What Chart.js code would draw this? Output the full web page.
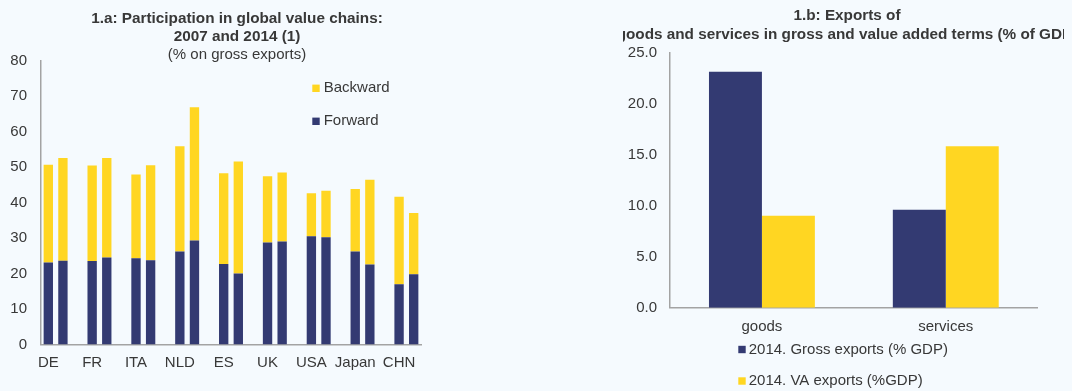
<!DOCTYPE html>
<html>
<head>
<meta charset="utf-8">
<script src="https://cdn.jsdelivr.net/npm/chart.js@4/dist/chart.umd.min.js"></script>
<style>
  html, body { margin: 0; padding: 0; background: #F5FAFE; overflow: hidden; width: 1072px; height: 391px; }
  #gvcBox { position: absolute; left: 0; top: 0; width: 474px; height: 391px; }
  #expClip { position: absolute; left: 623px; top: 0; width: 441px; height: 391px; overflow: hidden; }
  #expBox { position: absolute; left: -36px; top: 0; width: 520px; height: 391px; }
</style>
</head>
<body>
<div id="gvcBox"><canvas id="gvc"></canvas></div>
<div id="expClip"><div id="expBox"><canvas id="exp"></canvas></div></div>
<script>
// Participation in global value chains, % of gross exports
const countries    = ['DE', 'FR', 'ITA', 'NLD', 'ES', 'UK', 'USA', 'Japan', 'CHN'];
const forward2007  = [23.1, 23.5, 24.3, 26.2, 22.7, 28.7, 30.5, 26.2, 17.0];
const forward2014  = [23.6, 24.5, 23.7, 29.3, 20.0, 29.0, 30.2, 22.5, 19.8];
const backward2007 = [27.5, 26.9, 23.6, 29.6, 25.5, 18.7, 12.1, 17.6, 24.6];
const backward2014 = [28.9, 28.0, 26.8, 37.5, 31.5, 19.4, 13.1, 23.9, 17.2];

// Exports of goods and services, % of GDP (2014)
const exportKinds  = ['goods', 'services'];
const grossExports = [23.1, 9.6];
const vaExports    = [9.0, 15.8];

const NAVY = '#333A72';
const YELLOW = '#FFD622';
const TEXT = '#383838';
const AXIS = '#A3A3A3';
const FONT = '"Liberation Sans", Arial, sans-serif';

Chart.defaults.font.family = FONT;
Chart.defaults.font.size = 15;
Chart.defaults.color = TEXT;

// Each country gets a 2007 slot, a 2014 slot and a spacer slot between groups
const slotLabels = [], forwardSlots = [], backwardSlots = [];
countries.forEach((c, i) => {
  slotLabels.push(c, '');
  forwardSlots.push(forward2007[i], forward2014[i]);
  backwardSlots.push(backward2007[i], backward2014[i]);
  if (i < countries.length - 1) {
    slotLabels.push('');
    forwardSlots.push(null);
    backwardSlots.push(null);
  }
});

// Small square-marker legend placed at a fixed spot of the canvas
const squareLegend = {
  id: 'squareLegend',
  afterDraw(chart, args, opts) {
    const ctx = chart.ctx;
    let items = chart.data.datasets.map(d => ({ text: d.label, color: d.backgroundColor }));
    if (opts.reverse) items = items.reverse();
    ctx.save();
    ctx.font = '15px ' + FONT;
    ctx.textBaseline = 'middle';
    ctx.textAlign = 'left';
    items.forEach((it, i) => {
      const cy = opts.y + i * opts.spacing;
      ctx.fillStyle = it.color;
      ctx.fillRect(opts.x, cy - opts.box / 2, opts.box, opts.box);
      ctx.fillStyle = TEXT;
      ctx.fillText(it.text, opts.x + opts.box + opts.gap, cy);
    });
    ctx.restore();
  }
};

function axisCommon() {
  return {
    grid: { display: false, drawTicks: false },
    border: { display: true, color: AXIS, width: 1.5 },
  };
}

// Empty right-hand gutter: keeps the plot narrower than the canvas
// while the title stays centred on the whole canvas
function gutter(width) {
  return {
    type: 'linear',
    position: 'right',
    display: true,
    grid: { display: false, drawTicks: false },
    border: { display: false },
    ticks: { display: false },
    afterFit(scale) { scale.width = width; }
  };
}

new Chart(document.getElementById('gvc'), {
  type: 'bar',
  data: {
    labels: slotLabels,
    datasets: [
      { label: 'Forward', data: forwardSlots, backgroundColor: NAVY, stack: 'gvc' },
      { label: 'Backward', data: backwardSlots, backgroundColor: YELLOW, stack: 'gvc' }
    ]
  },
  options: {
    responsive: true,
    maintainAspectRatio: false,
    animation: false,
    categoryPercentage: 1,
    barPercentage: 0.64,
    layout: { padding: 0 },
    plugins: {
      legend: { display: false },
      tooltip: { enabled: false },
      title: {
        display: true,
        text: ['1.a: Participation in global value chains:', '2007 and 2014 (1)'],
        color: TEXT,
        font: { size: 15.3, weight: 'bold', lineHeight: 1.1667 },
        padding: { top: 9.5, bottom: 0 }
      },
      subtitle: {
        display: true,
        text: '(% on gross exports)',
        color: TEXT,
        font: { size: 15, lineHeight: 1.1667 },
        padding: { top: 1, bottom: -3.3 }
      },
      squareLegend: { x: 312.3, y: 88.3, spacing: 33, box: 7.4, gap: 4, reverse: true }
    },
    scales: {
      x: {
        stacked: true,
        ...axisCommon(),
        ticks: { autoSkip: false, maxRotation: 0, minRotation: 0, padding: 9, color: TEXT, font: { size: 15 } },
        afterFit(scale) { scale.height = 46.5; }
      },
      y: {
        stacked: true,
        min: 0,
        max: 80,
        ...axisCommon(),
        ticks: { stepSize: 10, padding: 14, color: TEXT, font: { size: 15 } },
        afterFit(scale) { scale.width = 41; }
      },
      gutter: gutter(53)
    }
  },
  plugins: [squareLegend]
});

new Chart(document.getElementById('exp'), {
  type: 'bar',
  data: {
    labels: exportKinds,
    datasets: [
      { label: '2014. Gross exports (% GDP)', data: grossExports, backgroundColor: NAVY },
      { label: '2014. VA exports (%GDP)', data: vaExports, backgroundColor: YELLOW }
    ]
  },
  options: {
    responsive: true,
    maintainAspectRatio: false,
    animation: false,
    categoryPercentage: 0.576,
    barPercentage: 1,
    layout: { padding: 0 },
    plugins: {
      legend: { display: false },
      tooltip: { enabled: false },
      title: {
        display: true,
        text: ['1.b: Exports of', 'goods and services in gross and value added terms (% of GDP)'],
        color: TEXT,
        font: { size: 15.3, weight: 'bold', lineHeight: 1.2 },
        padding: { top: 7, bottom: 8.7 }
      },
      squareLegend: { x: 151.3, y: 349.5, spacing: 31.5, box: 7.4, gap: 3, reverse: false }
    },
    scales: {
      x: {
        ...axisCommon(),
        ticks: { padding: 10, color: TEXT, font: { size: 15 } },
        afterFit(scale) { scale.height = 83.3; }
      },
      y: {
        min: 0,
        max: 25,
        ...axisCommon(),
        ticks: { stepSize: 5, padding: 13, color: TEXT, font: { size: 15 }, callback: v => Number(v).toFixed(1) },
        afterFit(scale) { scale.width = 83; }
      },
      gutter: gutter(69.3)
    }
  },
  plugins: [squareLegend]
});
</script>
</body>
</html>
